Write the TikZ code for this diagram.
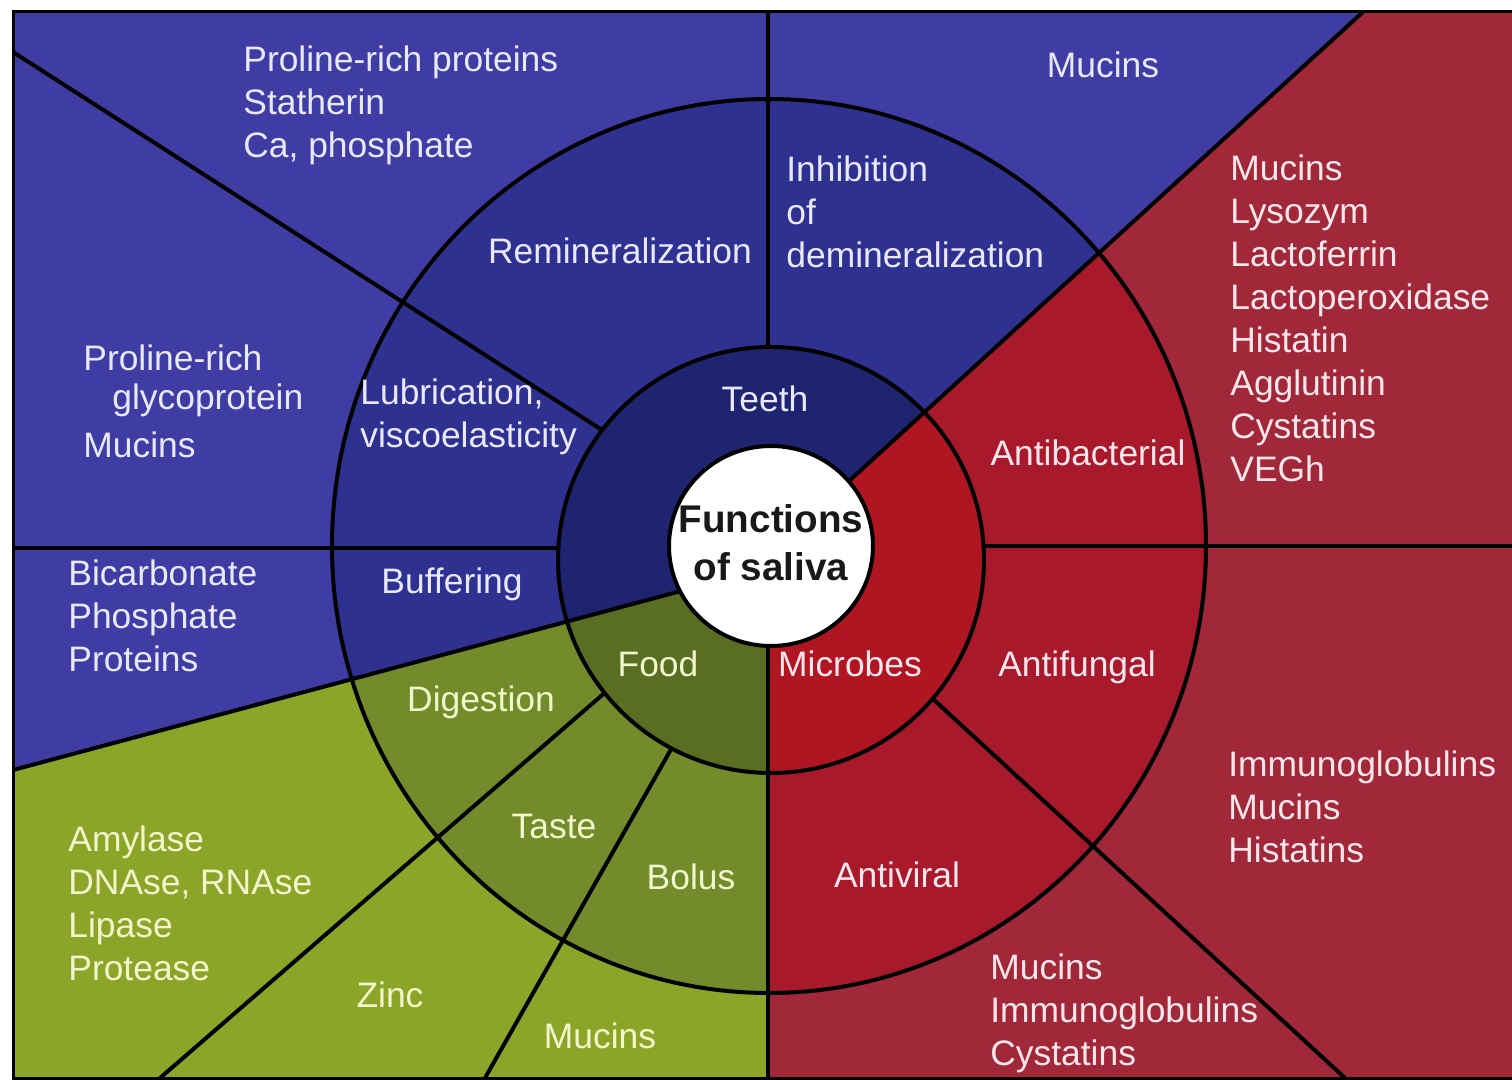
\documentclass[tikz,border=0pt]{standalone}
\usepackage{fontspec}
\setmainfont{Liberation Sans}
\usetikzlibrary{positioning}
\definecolor{BlueOut}{HTML}{3F3DA3}
\definecolor{BlueRing}{HTML}{2E3190}
\definecolor{BlueCore}{HTML}{1F2470}
\definecolor{RedOut}{HTML}{A02838}
\definecolor{RedRing}{HTML}{A8192B}
\definecolor{RedCore}{HTML}{B01622}
\definecolor{GreenOut}{HTML}{8CA528}
\definecolor{GreenRing}{HTML}{738B2A}
\definecolor{GreenCore}{HTML}{5A6E23}
\definecolor{TxtBlue}{HTML}{E8E8FF}
\definecolor{TxtRed}{HTML}{FFE6EC}
\definecolor{TxtGreen}{HTML}{F2F6CC}
\tikzset{
  lbl/.style={font=\fontsize{17.7}{21.5}\selectfont,inner sep=0pt},
  lblblue/.style={lbl,text=TxtBlue},
  lblred/.style={lbl,text=TxtRed},
  lblgreen/.style={lbl,text=TxtGreen},
  listblue/.style={lblblue,align=left,anchor=west},
  listred/.style={lblred,align=left,anchor=west},
  listgreen/.style={lblgreen,align=left,anchor=west},
  divide/.style={line width=2pt,draw=black},
  outerring/.style={x radius=218.5pt,y radius=223.5pt},
  innerring/.style={radius=106.5pt}
}

\begin{document}
\begin{tikzpicture}[x=0.5pt,y=-0.5pt]
  \useasboundingbox (0,0) rectangle (1512,1080);
  \clip (0,0) rectangle (1512,1080);
  \coordinate (ctr) at (771,546);
  \coordinate (mid) at (771,560);
  \coordinate (ring) at (769,546);

  % sectors
  \fill[BlueOut] (13,12) rectangle (1520,1090);
  \fill[BlueRing] (ring) ellipse[outerring];
  \fill[BlueCore] (mid) circle[innerring];
  \begin{scope}
    \clip (770,552) -- (1376,0) -- (1520,0) -- (1520,1090) -- (768,1090) -- cycle;
    \fill[RedOut] (13,12) rectangle (1520,1090);
    \fill[RedRing] (ring) ellipse[outerring];
    \fill[RedCore] (mid) circle[innerring];
  \end{scope}
  \begin{scope}
    \clip (681,591) -- (0,773.5) -- (0,1090) -- (768,1090) -- (768,591) -- cycle;
    \fill[GreenOut] (13,12) rectangle (1520,1090);
    \fill[GreenRing] (ring) ellipse[outerring];
    \fill[GreenCore] (mid) circle[innerring];
  \end{scope}

  % dividing lines
  \draw[divide] (13,52) -- (602,430);
  \draw[divide] (768,12) -- (768,347);
  \draw[divide] (1363,12) -- (848,482);
  \draw[divide] (984,546) -- (1520,546);
  \draw[divide] (13,548) -- (558,548);
  \draw[divide] (13,770) -- (681,591);
  \draw[divide] (160,1078) -- (604.5,693);
  \draw[divide] (485,1078) -- (671.5,748.5);
  \draw[divide] (768,647) -- (768,1090);
  \draw[divide] (1345,1078) -- (933,699);
  \draw[divide] (ring) ellipse[outerring];
  \draw[divide] (mid) circle[innerring];
  \filldraw[fill=white,divide] (ctr) ellipse[x radius=51pt,y radius=50pt];
  \draw[line width=1.5pt] (1520,12) -- (13,12) -- (13,1078) -- (1520,1078);

  % labels
  \node[font=\bfseries\fontsize{19.3}{24}\selectfont,text=black!90,align=center,inner sep=0pt] (saliva) at (771,543) {Functions\\of saliva};
  \node[lblblue] (teeth) at (765,399) {Teeth};
  \node[lblgreen] (food) at (658,664) {Food};
  \node[lblred] (microbes) at (850,664) {Microbes};

  \node[lblblue] (remin) at (620,251) {Remineralization};
  \node[listblue] (inhib) at (786,212) {Inhibition\\of\\demineralization};
  \node[listblue] (lubric) at (360,417) {Lubrication,\\viscoelasticity};
  \node[lblblue] (buffer) at (452,584) {Buffering};
  \node[lblgreen] (digest) at (481,702) {Digestion};
  \node[lblgreen] (taste) at (554,826) {Taste};
  \node[lblgreen] (bolus) at (691,877) {Bolus};
  \node[lblred] (antibact) at (1088,453) {Antibacterial};
  \node[lblred] (antifung) at (1077,667) {Antifungal};
  \node[lblred] (antivir) at (897,875) {Antiviral};

  \node[listblue] (remintxt) at (243,105) {Proline-rich proteins\\Statherin\\Ca, phosphate};
  \node[lblblue] (inhibtxt) at (1103,65) {Mucins};
  \node[listblue] (lubrictxt) at (83,401.5) {Proline-rich\\[-2pt]\hspace*{14.5pt}glycoprotein\\[2.5pt]Mucins};
  \node[listblue] (buffertxt) at (68,616) {Bicarbonate\\Phosphate\\Proteins};
  \node[listgreen] (digesttxt) at (68,903.5) {Amylase\\DNAse, RNAse\\Lipase\\Protease};
  \node[lblgreen] (tastetxt) at (390,995) {Zinc};
  \node[lblgreen] (bolustxt) at (600,1036) {Mucins};
  \node[listred] (antibacttxt) at (1230,318.5) {Mucins\\Lysozym\\Lactoferrin\\Lactoperoxidase\\Histatin\\Agglutinin\\Cystatins\\VEGh};
  \node[listred] (antifungtxt) at (1228,807) {Immunoglobulins\\Mucins\\Histatins};
  \node[listred] (antivirtxt) at (990,1013.5) {Mucins\\Immunoglobulins\\Cystatins};
\end{tikzpicture}
\end{document}
